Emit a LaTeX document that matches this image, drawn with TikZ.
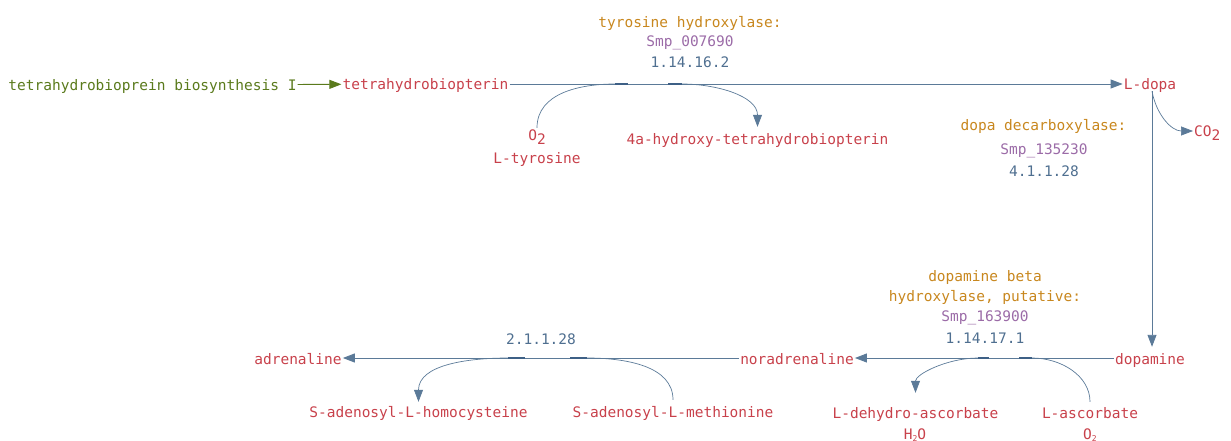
\documentclass[tikz,border=0pt]{standalone}
\usepackage{fontspec}
\setmonofont{DejaVu Sans Mono}
\usepackage{xcolor}
\usetikzlibrary{arrows.meta}

\definecolor{pathgreen}{HTML}{5A7A1C}
\definecolor{cpdred}{HTML}{C8414B}
\definecolor{enzorange}{HTML}{C8871E}
\definecolor{genepurple}{HTML}{9B6BA7}
\definecolor{ecblue}{HTML}{4F6F90}
\definecolor{rxnblue}{HTML}{5B7A98}
\definecolor{jointblue}{HTML}{3E6086}

% lowered digit for O2, CO2, H2O
\newcommand{\lowtwo}{\raisebox{-4pt}{2}}
\newcommand{\smalltwo}{\raisebox{-2pt}{\footnotesize 2}}

\begin{document}
\begin{tikzpicture}[x=1pt, y=-1pt,
    every node/.style={font=\ttfamily\fontsize{14.5}{17}\selectfont, inner xsep=1pt, inner ysep=0pt,
      text height=13pt, text depth=1pt},
    cpd/.style={text=cpdred},
    enz/.style={text=enzorange},
    gene/.style={text=genepurple},
    ec/.style={text=ecblue},
    tip/.style={-{Triangle[length=12pt,width=9pt]}},
    rxn/.style={draw=rxnblue, line width=0.9pt, tip},
    side/.style={draw=rxnblue, line width=0.7pt},
    joint/.style={draw=jointblue, line width=2.4pt}]
  \useasboundingbox (0,0) rectangle (1231,441);

  % top row
  \node[text=pathgreen] (bios) at (152.5,85) {tetrahydrobioprein biosynthesis I};
  \node[cpd] (thbp) at (425.5,84) {tetrahydrobiopterin};
  \node[cpd] (ldopa) at (1150,84) {L-dopa};
  \draw[rxn, draw=pathgreen] (bios) -- (thbp);
  \draw[rxn] (thbp) -- (ldopa);

  % tyrosine hydroxylase
  \node[enz] (th name) at (690,22) {tyrosine hydroxylase:};
  \node[gene] (th gene) at (690,41) {Smp\_007690};
  \node[ec] (th ec) at (690,62) {1.14.16.2};
  \node[cpd] (o2a) at (537,135) {O\lowtwo};
  \node[cpd] (ltyr) at (537,158) {L-tyrosine};
  \node[cpd] (hthbp) at (757.5,138) {4a-hydroxy-tetrahydrobiopterin};
  \coordinate (th in) at (615,84);
  \coordinate (th out) at (682,84);
  \draw[side] (o2a.north) to[out=90, in=180] (th in);
  \draw[side, tip, shorten >=4pt] (th out) to[out=0, in=90] (hthbp.north);
  \draw[joint] (615,84) -- (628,84);
  \draw[joint] (668,84) -- (682,84);

  % dopa decarboxylase
  \node[enz] (ddc name) at (1043.5,125) {dopa decarboxylase:};
  \node[gene] (ddc gene) at (1044,148) {Smp\_135230};
  \node[ec] (ddc ec) at (1044,170) {4.1.1.28};
  \node[cpd, anchor=west] (co2) at (1193,131) {CO\lowtwo};
  \node[cpd] (dopa) at (1150,358) {dopamine};
  \draw[rxn, shorten >=4pt] (ldopa.south -| 1152,0) -- (dopa.north -| 1152,0);
  \draw[side, tip] (ldopa.south -| 1152,0) to[out=-80, in=180] (co2.west);

  % dopamine beta hydroxylase
  \node[enz] (dbh name) at (985,275) {dopamine beta};
  \node[enz] (dbh name2) at (985,295) {hydroxylase, putative:};
  \node[gene] (dbh gene) at (985,315) {Smp\_163900};
  \node[ec] (dbh ec) at (985,337) {1.14.17.1};
  \node[cpd] (nora) at (797,358) {noradrenaline};
  \node[cpd] (lasc) at (1090,412) {L-ascorbate};
  \node[cpd] (o2b) at (1090,433) {O\smalltwo};
  \node[cpd] (ldha) at (915.5,412) {L-dehydro-ascorbate};
  \node[cpd] (h2o) at (915,433) {H\smalltwo O};
  \draw[rxn] (dopa) -- (nora);
  \coordinate (dbh in) at (1032,358);
  \coordinate (dbh out) at (978,358);
  \draw[side, shorten <=3pt] (lasc.north) to[out=90, in=0] (dbh in);
  \draw[side, tip, shorten >=12pt] (dbh out) to[out=180, in=90] (ldha.north);
  \draw[joint] (1019,358) -- (1032,358);
  \draw[joint] (978,358) -- (989,358);

  % 2.1.1.28
  \node[ec] (pnmt ec) at (541,338) {2.1.1.28};
  \node[cpd] (adr) at (298,358) {adrenaline};
  \node[cpd] (sam) at (673,411) {S-adenosyl-L-methionine};
  \node[cpd] (sah) at (418.5,411) {S-adenosyl-L-homocysteine};
  \draw[rxn] (nora) -- (adr);
  \coordinate (pnmt in) at (587,358);
  \coordinate (pnmt out) at (508,358);
  \draw[side, shorten <=4pt] (sam.north) to[out=90, in=0] (pnmt in);
  \draw[side, tip, shorten >=2pt] (pnmt out) to[out=180, in=90] (sah.north);
  \draw[joint] (570,358) -- (587,358);
  \draw[joint] (508,358) -- (525,358);
\end{tikzpicture}
\end{document}
